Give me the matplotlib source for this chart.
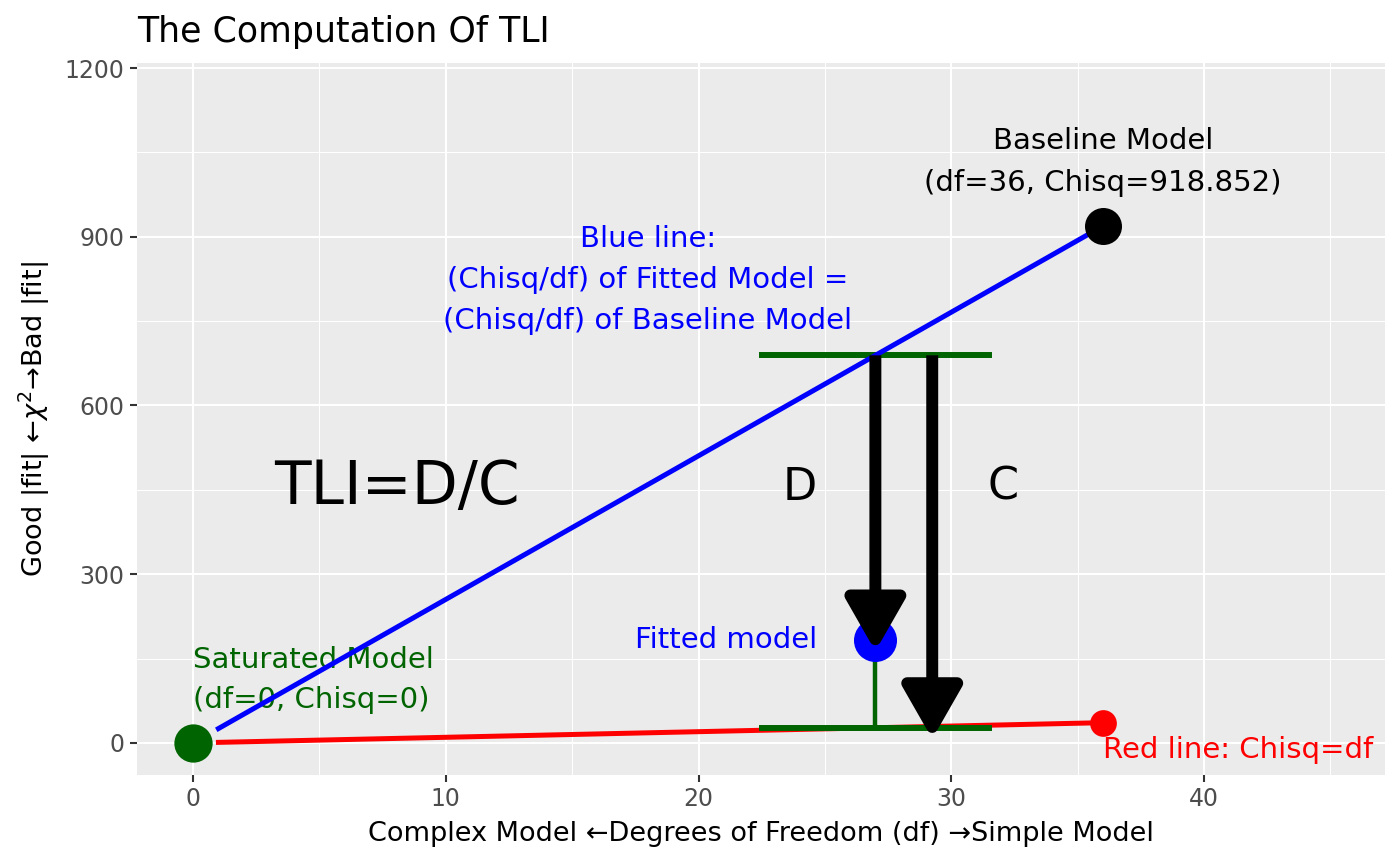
import matplotlib
matplotlib.use("Agg")
import matplotlib.pyplot as plt
from matplotlib.patches import FancyArrowPatch

# data
df_base, chisq_base = 36, 918.852
df_fit, chisq_fit = 27, 183
line_df = [1, 36]
blue_chisq = [d * chisq_base / df_base for d in line_df]
red_chisq = [1, 36]
d_top = df_fit * chisq_base / df_base
d_bottom = df_fit
x_ticks = [0, 10, 20, 30, 40]
y_ticks = [0, 300, 600, 900, 1200]

GREEN = "#006400"

fig = plt.figure(figsize=(14, 8.66), dpi=100)
ax = fig.add_axes([0.0979, 0.1051, 0.8914, 0.8222])
ax.set_facecolor("#EBEBEB")
for s in ax.spines.values():
    s.set_visible(False)

ax.set_xlim(-2.22, 47.17)
ax.set_ylim(-57, 1209)
ax.set_xticks(x_ticks)
ax.set_yticks(y_ticks)
ax.set_xticks([5, 15, 25, 35, 45], minor=True)
ax.set_yticks([150, 450, 750, 1050], minor=True)
ax.grid(True, which="major", color="white", lw=1.5)
ax.grid(True, which="minor", color="white", lw=0.75)
ax.set_axisbelow(True)
ax.tick_params(which="major", length=5, width=1.5, color="#333333",
               labelsize=17, labelcolor="#4D4D4D", pad=4)
ax.tick_params(which="minor", length=0)

# text first, so the lines go over it
txt = 21
ax.text(df_base, 1033, "Baseline Model\n(df=36, Chisq=918.852)", ha="center",
        va="center", fontsize=txt, linespacing=1.65, color="black")
ax.text(18, 823, "Blue line:\n(Chisq/df) of Fitted Model =\n(Chisq/df) of Baseline Model",
        ha="center", va="center", fontsize=txt, linespacing=1.58, color="blue")
ax.text(0, 112, "Saturated Model\n(df=0, Chisq=0)", ha="left", va="center",
        fontsize=txt, linespacing=1.58, color=GREEN)
ax.text(24.7, chisq_fit, "Fitted model", ha="right", va="center",
        fontsize=txt, color="blue")
ax.text(36, -12, "Red line: Chisq=df", ha="left", va="center",
        fontsize=txt, color="red")
ax.text(8.07, 455, "TLI=D/C", ha="center", va="center", fontsize=43)
ax.text(24.0, 455, "D", ha="center", va="center", fontsize=32)
ax.text(32.05, 455, "C", ha="center", va="center", fontsize=32)

# green D / C guides
ax.plot([df_fit - 4.5, df_fit + 4.5], [d_top, d_top], color=GREEN, lw=4.3, zorder=3)
ax.plot([df_fit, df_fit], [chisq_fit, d_bottom], color=GREEN, lw=3.2, zorder=3)

ax.plot(line_df, blue_chisq, color="blue", lw=3.6, zorder=4)
ax.plot(line_df, red_chisq, color="red", lw=3.6, zorder=4)
ax.plot([df_fit - 4.5, df_fit + 4.5], [d_bottom, d_bottom], color=GREEN, lw=4.3, zorder=4.5)

ax.scatter([0], [0], s=760, color=GREEN, zorder=5, linewidths=0)
ax.scatter([df_base], [chisq_base], s=710, color="black", zorder=5, linewidths=0)
ax.scatter([36], [36], s=370, color="red", zorder=5, linewidths=0)
ax.scatter([df_fit], [chisq_fit], s=960, color="blue", zorder=5, linewidths=0)

# D and C arrows (end pulled a bit lower, the round join eats the tip)
tip_fix = 20
for x0, y1 in [(df_fit, chisq_fit), (29.25, d_bottom)]:
    arr = FancyArrowPatch((x0, d_top), (x0, y1 - tip_fix),
                          arrowstyle="-|>,head_length=2.1,head_width=1.2",
                          mutation_scale=15, lw=8.6, color="black",
                          joinstyle="round", capstyle="butt",
                          shrinkA=0, shrinkB=0, zorder=6)
    ax.add_patch(arr)

ax.set_xlabel("Complex Model \u2190Degrees of Freedom (df) \u2192Simple Model",
              fontsize=19.5, labelpad=7)
ax.set_ylabel("Good |fit| \u2190$\\chi^2$\u2192Bad |fit|", fontsize=19.5, labelpad=9)
ax.set_title("The Computation Of TLI", loc="left", fontsize=25, pad=15)

fig.savefig("out.png", dpi=100)
